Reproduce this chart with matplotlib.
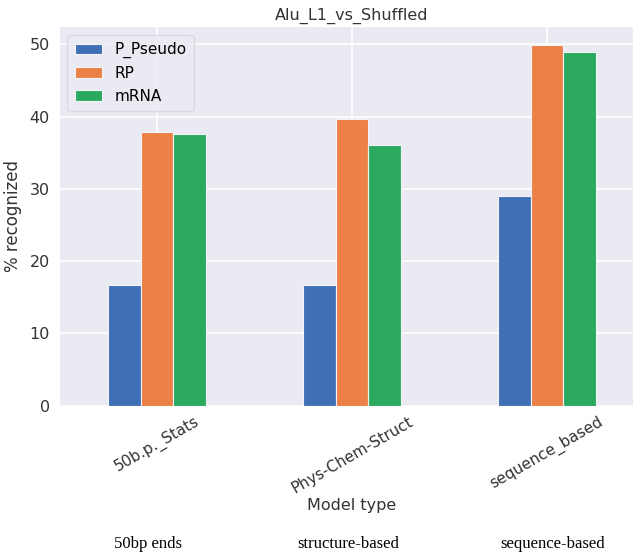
import matplotlib
matplotlib.use("Agg")
import matplotlib.pyplot as plt
import numpy as np

models = ["50b.p._Stats", "Phys-Chem-Struct", "sequence_based"]
groups = ["50bp ends", "structure-based", "sequence-based"]
series_names = ["P_Pseudo", "RP", "mRNA"]
p_pseudo = [16.7, 16.7, 29.05]
rp = [37.85, 39.6, 49.95]
mrna = [37.65, 36.1, 48.9]
colors = ["#3F6FB5", "#EC8046", "#2BA95F"]

W, H = 633, 552
fig = plt.figure(figsize=(W / 100, H / 100), dpi=100)
fig.patch.set_facecolor("white")

# plot area runs slightly past the right edge of the canvas
left, right, top, bottom = 59.5, 644.5, 27, 405.5
ax = fig.add_axes([left / W, 1 - bottom / H, (right - left) / W, (bottom - top) / H])
ax.set_facecolor("#EAEAF2")
for s in ax.spines.values():
    s.set_visible(False)
ax.grid(True, color="white", linewidth=1.2)
ax.set_axisbelow(True)

x = np.arange(len(models))
bw = 0.5 / 3
for i, (name, vals) in enumerate(zip(series_names, [p_pseudo, rp, mrna])):
    ax.bar(x + (i - 1) * bw, vals, width=bw, color=colors[i], label=name,
           edgecolor="#F4F4F8", linewidth=0.8)

ax.set_xlim(-0.5, 2.5)
ax.set_ylim(0, 52.4)
ax.set_yticks([0, 10, 20, 30, 40, 50])
ax.set_xticks(x)
ax.set_xticklabels(models, rotation=30, ha="center", fontsize=11, color="#333333")
ax.tick_params(axis="y", labelsize=11.5, labelcolor="#333333", length=0, pad=7)
ax.tick_params(axis="x", length=0, pad=6)
ax.set_ylabel("% recognized", fontsize=12, color="#333333", labelpad=5)
ax.set_xlabel("Model type", fontsize=11.5, color="#333333", labelpad=2)

fig.text(352 / W, 1 - 16 / H, "Alu_L1_vs_Shuffled", ha="center", va="center",
         fontsize=11.5, color="#333333")

leg = ax.legend(loc="upper left", fontsize=11, frameon=True, facecolor="#EAEAF2",
                edgecolor="#D6D6DE", handlelength=1.8, handletextpad=0.8,
                borderpad=0.5, labelspacing=0.5)

for cx, g in zip([148, 348, 553], groups):
    fig.text(cx / W, 1 - 544 / H, g, ha="center", va="center",
             fontsize=12, family="Liberation Serif", color="black")

fig.savefig("out.png", dpi=100)
